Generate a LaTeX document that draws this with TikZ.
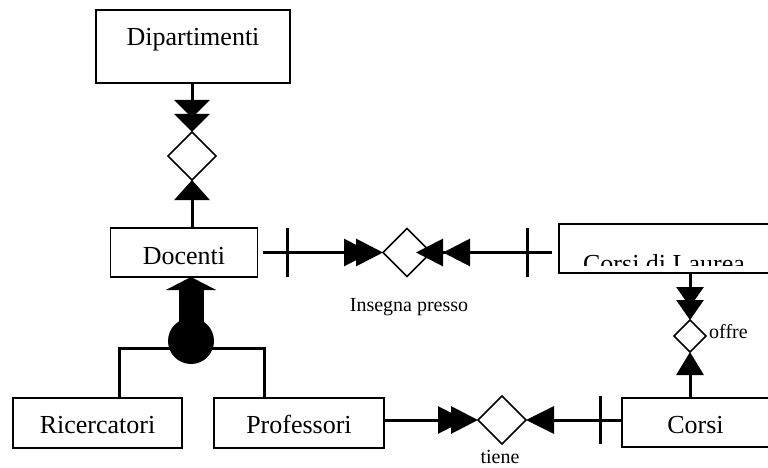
\documentclass[tikz,border=0pt]{standalone}
\usepackage{fontspec}
\setmainfont{Liberation Serif}
\usetikzlibrary{arrows.meta,shapes.geometric}
\begin{document}
\begin{tikzpicture}[x=1pt,y=-1pt,
  ent/.style={draw, line width=1.2pt, inner sep=0pt, outer sep=0pt, font=\fontsize{26}{30}\selectfont, anchor=base},
  rel/.style={draw, diamond, line width=1.6pt, fill=white, inner sep=0pt, outer sep=0pt, minimum width=48pt, minimum height=48pt},
  conn/.style={line width=3pt},
  tick/.style={line width=3pt},
  lab/.style={font=\fontsize{20}{24}\selectfont, anchor=base, inner sep=0pt},
  tA/.style={Triangle[length=18pt,width=35pt]},
  tB/.style={Triangle[length=27pt,width=27pt]}]
\clip (0,0) rectangle (768,468);
% entities
\node[ent, minimum width=194pt, text height=36pt, text depth=37pt] (dip) at (193,46) {Dipartimenti};
\node[ent, minimum width=147pt, text height=36pt, text depth=13pt] (doc) at (184,264) {Docenti};
\node[ent, minimum width=169pt, text height=35pt, text depth=15pt] (ric) at (97.5,433) {Ricercatori};
\node[ent, minimum width=170pt, text height=35pt, text depth=15pt] (pro) at (299,433) {Professori};
\node[ent, minimum width=147pt, text height=35pt, text depth=14pt] (cor) at (695.5,433) {Corsi};
\node[ent, minimum width=210pt, minimum height=49pt, anchor=center] (cdl) at (664,248.5) {};
\begin{scope}
\clip (0,0) rectangle (768,265);
\node[ent, draw=none, anchor=base] (cdlt) at (664,272) {Corsi di Laurea};
\end{scope}
% relationships
\node[rel] (d1) at (192,156) {};
\node[rel] (d2) at (407,252.5) {};
\node[rel, minimum width=32pt, minimum height=32pt] (d3) at (690,336) {};
\node[rel] (d4) at (502,420) {};
% connectors
\draw[conn, -{Triangle[length=18pt,width=35pt,sep=-4pt]Triangle[length=18pt,width=35pt]}] (dip.south -| d1) -- (d1.north);
\draw[conn, {Triangle[length=20pt,width=35pt]}-] (d1.south) -- (d1.south |- doc.north);
\draw[conn, shorten <=5pt, -{Triangle[length=27pt,width=27pt,sep=-15pt]Triangle[length=27pt,width=27pt]}] (doc.east |- d2) -- (d2.west);
\draw[conn, shorten >=7pt, {Triangle[length=27pt,width=27pt,sep=-15pt]Triangle[length=27pt,width=27pt]}-] (d2.east) -- (d2.east -| cdl.west);
\draw[conn, -{Triangle[length=20pt,width=27pt,sep=-7pt]Triangle[length=20pt,width=27pt]}] (cdl.south -| d3) -- (d3.north);
\draw[conn, {Triangle[length=23pt,width=27pt]}-] (d3.south) -- (d3.south |- cor.north);
\draw[conn, -{Triangle[length=27pt,width=27pt,sep=-14pt]Triangle[length=27pt,width=27pt]}] (pro.east |- d4) -- (d4.west);
\draw[conn, {Triangle[length=28pt,width=27pt]}-] (d4.east) -- (d4.east -| cor.west);
% ticks
\draw[tick] (287,228) -- (287,277);
\draw[tick] (527,228) -- (527,277);
\draw[tick] (600,396) -- (600,444);
% labels
\node[lab] (l1) at (409,311) {Insegna presso};
\node[lab] (l2) at (500,463) {tiene};
\node[lab, anchor=base west] (l3) at (709,338) {offre};
% generalization
\coordinate (jl) at (119,348);
\coordinate (jr) at (264,348);
\draw[conn] (jl |- ric.north) -- (jl) -- (jr) -- (jr |- pro.north);
\node[circle, fill, minimum size=46pt, inner sep=0pt] (isa) at (191,341) {};
\draw[line width=25pt, -{Triangle[length=13pt,width=50pt]}] (isa.center) -- (isa.center |- doc.south);
\end{tikzpicture}
\end{document}
